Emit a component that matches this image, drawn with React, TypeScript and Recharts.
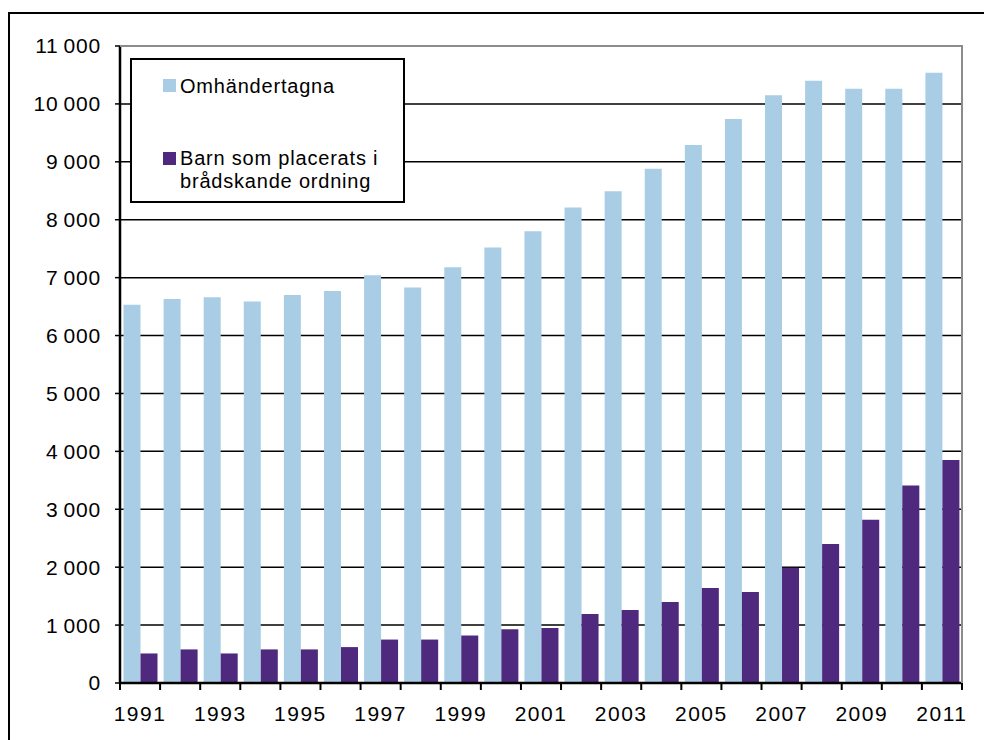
import React from 'react';
import { BarChart, Bar, XAxis, YAxis, CartesianGrid, Legend } from 'recharts';

const years = [
  '1991', '1992', '1993', '1994', '1995', '1996', '1997', '1998', '1999', '2000',
  '2001', '2002', '2003', '2004', '2005', '2006', '2007', '2008', '2009', '2010', '2011',
];
const omhandertagna = [
  6530, 6630, 6660, 6590, 6700, 6770, 7040, 6830, 7180, 7520,
  7800, 8210, 8490, 8880, 9290, 9740, 10150, 10400, 10260, 10260, 10540,
];
const bradskande = [
  510, 580, 510, 580, 580, 620, 750, 750, 820, 930,
  950, 1190, 1260, 1400, 1640, 1570, 1990, 2400, 2820, 3410, 3850,
];
const yTicks = [0, 1000, 2000, 3000, 4000, 5000, 6000, 7000, 8000, 9000, 10000, 11000];

const seriesNames = ['Omhändertagna', 'Barn som placerats i brådskande ordning'];
const LIGHT = '#A9CDE5';
const DARK = '#4F297D';

const data = years.map((year, i) => ({
  year,
  omh: omhandertagna[i],
  brad: bradskande[i],
}));

const CHART_W = 984;
const CHART_H = 740;
const Y_AXIS_W = 120;
const margin = { top: 46, right: 22, bottom: 7, left: 0 };
const band = (CHART_W - margin.left - margin.right - Y_AXIS_W) / years.length;
const TICK_MARGIN = 8;
const FONT = '"Liberation Sans", Arial, sans-serif';

const fmt = (v: number) =>
  v >= 1000 ? `${Math.floor(v / 1000)}\u2009${String(v % 1000).padStart(3, '0')}` : String(v);

const YearTick = (props: any) => {
  const { x, y, payload, index } = props;
  const axisY = y - TICK_MARGIN;
  const last = index === years.length - 1;
  return (
    <g>
      <line x1={x - band / 2} x2={x - band / 2} y1={axisY} y2={axisY + 7} stroke="#000" strokeWidth={2} />
      {last && (
        <line x1={x + band / 2} x2={x + band / 2} y1={axisY} y2={axisY + 7} stroke="#000" strokeWidth={2} />
      )}
      {index % 2 === 0 && (
        <text
          x={x}
          y={axisY + 38}
          textAnchor="middle"
          fill="#000"
          style={{ fontFamily: FONT, fontSize: 21, letterSpacing: 1.5 }}
        >
          {payload.value}
        </text>
      )}
    </g>
  );
};

const LegendBox = () => (
  <div
    style={{
      width: 275,
      height: 145,
      border: '2px solid #000',
      boxSizing: 'border-box',
      background: '#fff',
      fontFamily: FONT,
      fontSize: 20,
      letterSpacing: 0.8,
      color: '#000',
      position: 'relative',
    }}
  >
    <div style={{ position: 'absolute', left: 31, top: 17, display: 'flex', alignItems: 'flex-start' }}>
      <span style={{ width: 13, height: 13, background: LIGHT, marginTop: 2, marginRight: 4 }} />
      <span style={{ lineHeight: '18px' }}>{seriesNames[0]}</span>
    </div>
    <div style={{ position: 'absolute', left: 31, top: 90, display: 'flex', alignItems: 'flex-start' }}>
      <span style={{ width: 13, height: 13, background: DARK, marginTop: 2, marginRight: 4, flexShrink: 0 }} />
      <span style={{ lineHeight: '23px', width: 225, marginTop: -3 }}>
        Barn som placerats i<br />brådskande ordning
      </span>
    </div>
  </div>
);

export default function App() {
  return (
    <div style={{ position: 'fixed', left: 0, top: 0, width: 984, height: 740, overflow: 'hidden', background: '#fff' }}>
      <div
        style={{
          position: 'absolute',
          left: 8,
          top: 12,
          width: 1000,
          height: 800,
          borderLeft: '2px solid #000',
          borderTop: '2px solid #000',
        }}
      />
      <div style={{ position: 'absolute', left: 0, top: 0 }}>
        <BarChart
          width={CHART_W}
          height={CHART_H}
          data={data}
          margin={margin}
          barCategoryGap={3.5}
          barGap={0}
        >
          <CartesianGrid vertical={false} stroke="#000" strokeWidth={1.5} />
          <XAxis
            dataKey="year"
            interval={0}
            height={50}
            tickSize={0}
            tickMargin={TICK_MARGIN}
            tick={<YearTick />}
            axisLine={{ stroke: '#000', strokeWidth: 2.5 }}
            tickLine={false}
          />
          <YAxis
            width={Y_AXIS_W}
            domain={[0, 11000]}
            ticks={yTicks}
            interval={0}
            tickFormatter={fmt}
            tickSize={5}
            tickMargin={14}
            axisLine={{ stroke: '#000', strokeWidth: 2.5 }}
            tickLine={{ stroke: '#000', strokeWidth: 1.5 }}
            tick={{ fill: '#000', fontFamily: FONT, fontSize: 21, letterSpacing: 0.8 }}
          />
          <Legend
            layout="vertical"
            align="center"
            verticalAlign="middle"
            wrapperStyle={{ left: 130, top: 58, width: 275 }}
            content={() => <LegendBox />}
          />
          <Bar dataKey="omh" name={seriesNames[0]} fill={LIGHT} isAnimationActive={false} />
          <Bar dataKey="brad" name={seriesNames[1]} fill={DARK} isAnimationActive={false} />
        </BarChart>
      </div>
      <div
        style={{
          position: 'absolute',
          left: 120,
          top: 45,
          width: 843,
          height: 638,
          boxSizing: 'border-box',
          borderTop: '2px solid #8c8c8c',
          borderRight: '2px solid #8c8c8c',
          pointerEvents: 'none',
        }}
      />
    </div>
  );
}
